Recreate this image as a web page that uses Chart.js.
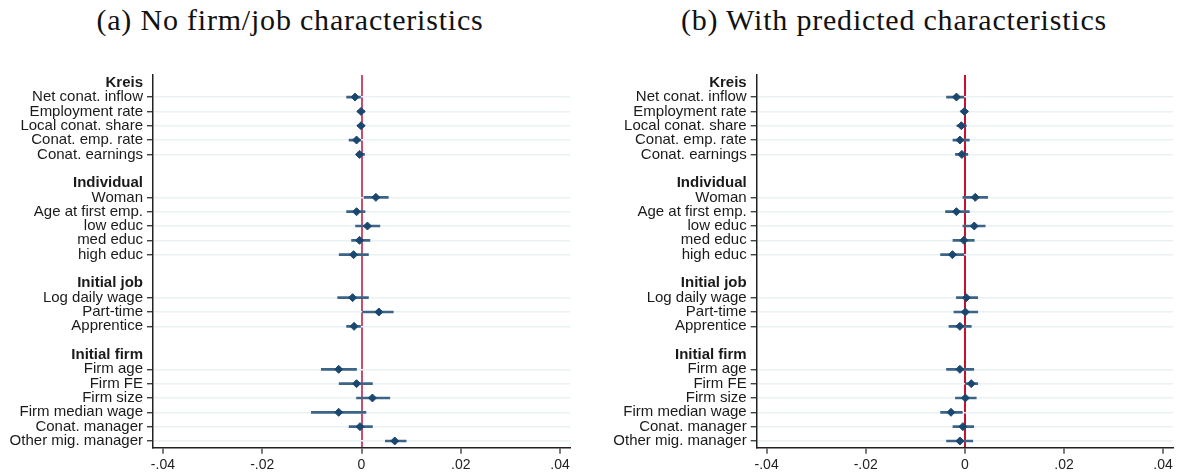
<html>
<head>
<script src="https://cdn.jsdelivr.net/npm/chart.js"></script>
<style>
	body { margin: 0; background: #fff; }
	#wrap { position: relative; width: 1180px; height: 475px; }
	.ttl {
		position: absolute; top: 5px; line-height: 30px;
		font-family: "Liberation Serif", serif; font-size: 30px;
		letter-spacing: 0.8px; color: #111; text-align: center; white-space: nowrap;
	}
	canvas { position: absolute; top: 0; }
</style>
</head>
<body>
<div id="wrap">
	<div class="ttl" style="left:40px;width:500px;">(a) No firm/job characteristics</div>
	<div class="ttl" style="left:644px;width:500px;">(b) With predicted characteristics</div>
	<canvas id="chartA" width="590" height="475" style="left:0;"></canvas>
	<canvas id="chartB" width="590" height="475" style="left:590px;"></canvas>
</div>

<script>
	// row labels top to bottom, '' = spacer row
	const rows = [
		'Kreis', 'Net conat. inflow', 'Employment rate', 'Local conat. share', 'Conat. emp. rate', 'Conat. earnings',
		'',
		'Individual', 'Woman', 'Age at first emp.', 'low educ', 'med educ', 'high educ',
		'',
		'Initial job', 'Log daily wage', 'Part-time', 'Apprentice',
		'',
		'Initial firm', 'Firm age', 'Firm FE', 'Firm size', 'Firm median wage', 'Conat. manager', 'Other mig. manager'
	];
	const headers = ['Kreis', 'Individual', 'Initial job', 'Initial firm'];

	const xTicks = [-0.04, -0.02, 0, 0.02, 0.04];
	const xTickLabels = ['-.04', '-.02', '0', '.02', '.04'];

	// (a) no firm/job characteristics
	const estA = [null, -0.0013, -0.0001, -0.0001, -0.001, -0.0004, null,
		null, 0.0029, -0.001, 0.0012, -0.0004, -0.0016, null,
		null, -0.0018, 0.0035, -0.0015, null,
		null, -0.0046, -0.001, 0.0022, -0.0046, -0.0003, 0.0067];
	const loA = [null, -0.003, -0.0008, -0.0008, -0.0025, -0.001, null,
		null, 0.0005, -0.003, -0.0012, -0.002, -0.0045, null,
		null, -0.0048, 0.0002, -0.003, null,
		null, -0.0081, -0.0045, -0.001, -0.0101, -0.0025, 0.0048];
	const hiA = [null, 0.0, 0.0006, 0.0006, 0.0, 0.0006, null,
		null, 0.0054, 0.0007, 0.0037, 0.0017, 0.0014, null,
		null, 0.0014, 0.0064, 0.0, null,
		null, -0.001, 0.0022, 0.0057, 0.0009, 0.0022, 0.009];

	// (b) with predicted characteristics
	const estB = [null, -0.0017, -0.0001, -0.0007, -0.001, -0.0006, null,
		null, 0.0021, -0.0017, 0.0019, -0.0002, -0.0025, null,
		null, 0.0003, 0.0001, -0.001, null,
		null, -0.001, 0.0013, 0.0001, -0.0028, -0.0004, -0.001];
	const loB = [null, -0.0037, -0.0008, -0.0016, -0.0024, -0.0019, null,
		null, -0.0004, -0.0039, -0.0004, -0.0024, -0.0049, null,
		null, -0.0017, -0.0022, -0.0032, null,
		null, -0.0037, 0.0001, -0.0019, -0.0049, -0.0024, -0.0037];
	const hiB = [null, 0.0, 0.0006, 0.0003, 0.0009, 0.0006, null,
		null, 0.0046, 0.0009, 0.0041, 0.0019, 0.0, null,
		null, 0.0026, 0.0026, 0.0013, null,
		null, 0.0018, 0.0026, 0.0023, -0.0005, 0.0018, 0.0016];

	const font = '"Liberation Sans", Arial, sans-serif';
	const isHeader = v => headers.includes(rows[v]);
	const xMin = -0.042, xMax = 0.042;
	const yMin = -0.54, yMax = 25.47;

	function makePanel(id, est, lo, hi, zeroColor, yWidth, padRight) {
		const points = [], bars = [];
		rows.forEach((r, i) => {
			if (est[i] === null) return;
			points.push({ x: est[i], y: i });
			bars.push({ x: [lo[i], hi[i]], y: i });
		});

		return new Chart(document.getElementById(id), {
			type: 'scatter',
			data: {
				datasets: [
					{
						type: 'scatter',
						data: points,
						pointStyle: 'rectRot',
						pointRadius: 4,
						pointBorderWidth: 1,
						backgroundColor: '#1a476f',
						borderColor: '#1a476f'
					},
					{
						type: 'bar',
						indexAxis: 'y',
						data: bars,
						barThickness: 2,
						borderWidth: 0,
						backgroundColor: '#3d6486'
					}
				]
			},
			options: {
				responsive: false,
				animation: false,
				devicePixelRatio: 1,
				layout: { padding: { top: 75, right: padRight, left: 0, bottom: 0 } },
				plugins: { legend: { display: false }, tooltip: { enabled: false } },
				scales: {
					x: {
						type: 'linear',
						bounds: 'data',
						offset: false,
						min: xMin,
						max: xMax,
						afterBuildTicks: s => {
							s.ticks = xTicks.map(v => ({ value: v }));
							s.min = xMin; s.max = xMax;
						},
						afterFit: s => { s.height = 27.3; s.paddingLeft = 0; s.paddingRight = 0; },
						border: { color: '#222', width: 1.5 },
						grid: {
							offset: false,
							color: c => (c.tick && c.tick.value === 0) ? zeroColor : 'rgba(0,0,0,0)',
							lineWidth: 2,
							tickColor: '#222',
							tickLength: 6,
							tickWidth: 1.2
						},
						ticks: {
							callback: (v, i) => xTickLabels[i],
							font: { family: font, size: 14 },
							color: '#222',
							padding: 3,
							maxRotation: 0,
							autoSkip: false
						}
					},
					y: {
						type: 'linear',
						bounds: 'data',
						offset: false,
						reverse: true,
						min: yMin,
						max: yMax,
						afterBuildTicks: s => {
							s.ticks = rows.map((r, i) => ({ value: i })).filter(t => rows[t.value] !== '');
							s.min = yMin; s.max = yMax;
						},
						afterFit: s => { s.width = yWidth; s.paddingTop = 0; s.paddingBottom = 0; },
						border: { color: '#222', width: 1.5 },
						grid: {
							offset: false,
							color: c => (c.tick && isHeader(c.tick.value)) ? 'rgba(0,0,0,0)' : '#e9f1f3',
							lineWidth: 1.5,
							tickColor: c => (c.tick && isHeader(c.tick.value)) ? 'rgba(0,0,0,0)' : '#222',
							tickLength: 6,
							tickWidth: 1.2
						},
						ticks: {
							callback: v => rows[v],
							font: c => ({ family: font, size: 15, weight: (c.tick && isHeader(c.tick.value)) ? 'bold' : 'normal' }),
							color: '#1a1a1a',
							padding: 4,
							autoSkip: false
						}
					}
				}
			}
		});
	}

	makePanel('chartA', estA, loA, hiA, '#cc4c6c', 153, 20);
	makePanel('chartB', estB, loB, hiB, '#c8102e', 166.7, 7);
</script>
</body>
</html>
